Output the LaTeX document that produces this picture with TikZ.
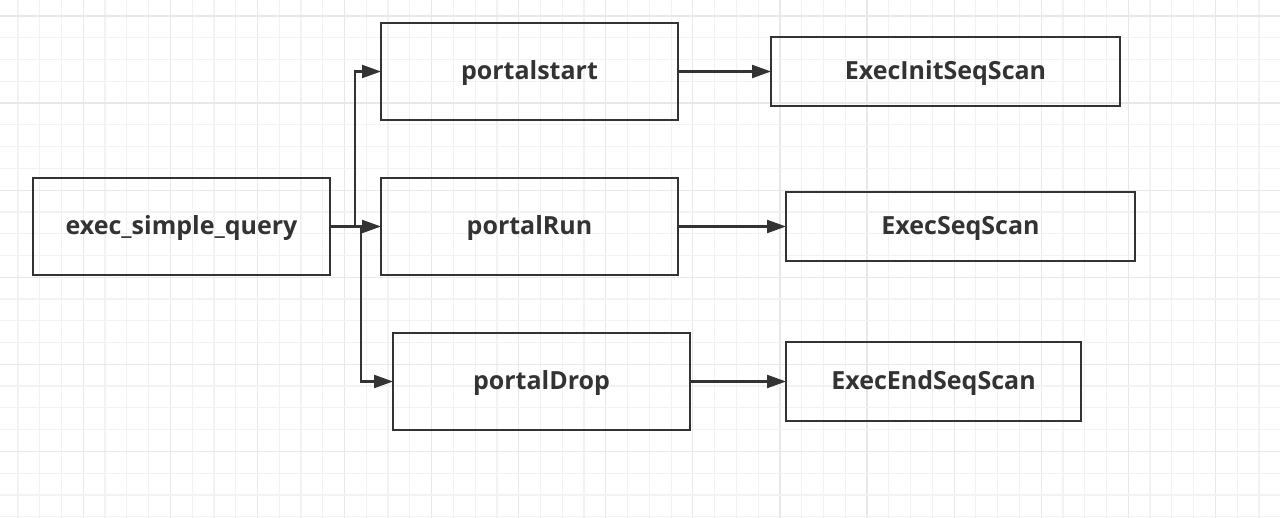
\documentclass[tikz,border=0pt]{standalone}
\usepackage{fontspec}
\setmainfont{Open Sans}
\usetikzlibrary{positioning, arrows.meta}

\definecolor{ink}{HTML}{333333}
\definecolor{gridminor}{HTML}{F2F2F2}
\definecolor{gridmajor}{HTML}{E8E8E8}

\begin{document}
\begin{tikzpicture}[x=1pt, y=-1pt, >={Triangle[length=19pt, width=13pt]},
    func/.style={draw=ink, line width=2.2pt, minimum width=297pt, minimum height=97pt,
                 inner sep=0pt, outer sep=0pt, text=ink, text depth=2pt,
                 font=\fontsize{25}{29}\selectfont\bfseries},
    exec/.style={func, minimum width=349pt, minimum height=69pt},
    link/.style={->, draw=ink, line width=2.2pt}]
  % background grid
  \useasboundingbox (0,0) rectangle (1280,518);
  \foreach \k in {0,...,58} {
    \pgfmathsetmacro{\gx}{18+21.77*\k}
    \pgfmathtruncatemacro{\m}{mod(\k,4)}
    \ifnum\m=3 \draw[gridmajor, line width=1.2pt] (\gx,0) -- (\gx,518);
    \else \draw[gridminor, line width=1.2pt] (\gx,0) -- (\gx,518); \fi
  }
  \foreach \k in {0,...,23} {
    \pgfmathsetmacro{\gy}{16+21.77*\k}
    \pgfmathtruncatemacro{\m}{mod(\k,4)}
    \ifnum\m=0 \draw[gridmajor, line width=1.2pt] (0,\gy) -- (1280,\gy);
    \else \draw[gridminor, line width=1.2pt] (0,\gy) -- (1280,\gy); \fi
  }

  \node[func] (query) at (181.5,226.5) {exec\_simple\_query};
  \node[func, right=51pt of query] (run) {portalRun};
  \node[func, above=58pt of run] (start) {portalstart};
  \node[func, below=58pt of run, xshift=12pt] (drop) {portalDrop};
  \node[exec, right=93pt of start] (initscan) {ExecInitSeqScan};
  \node[exec, right=108pt of run] (seqscan) {ExecSeqScan};
  \node[exec, right=96pt of drop, minimum width=295pt, minimum height=79pt] (endscan) {ExecEndSeqScan};

  \coordinate[right=25pt of query.east] (up);
  \coordinate[right=31pt of query.east] (down);
  \draw[link] (query.east) -- (up) |- (start.west);
  \draw[link] (query.east) -- (run.west);
  \draw[link] (down) |- (drop.west);
  \draw[link] (start) -- (initscan);
  \draw[link] (run) -- (seqscan);
  \draw[link] (drop) -- (endscan);
\end{tikzpicture}
\end{document}
